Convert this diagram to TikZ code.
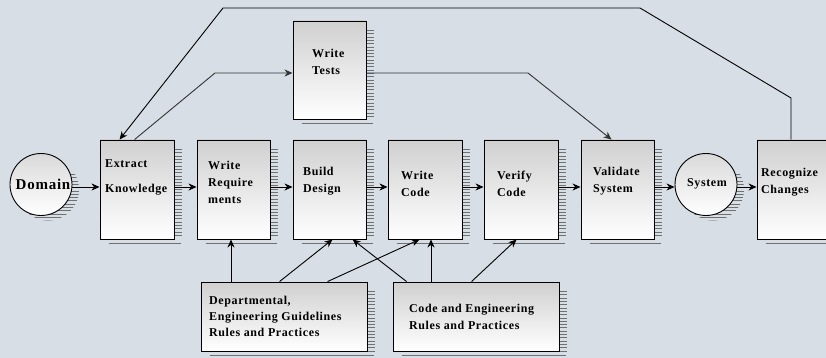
\documentclass[tikz,border=0pt]{standalone}
\usepackage{fontspec}
\setmainfont{Liberation Serif}[LetterSpace=5]
\usetikzlibrary{arrows.meta,calc}

\definecolor{bgmarble}{RGB}{216,222,229}
\definecolor{hatchgray}{RGB}{112,112,112}
\definecolor{boxtop}{RGB}{208,208,208}

\tikzset{
  x=1pt, y=-1pt,
  procbox/.style={draw=black, line width=0.9pt, rectangle, inner sep=0pt,
    top color=boxtop, bottom color=white},
  termcircle/.style={draw=black, line width=0.9pt, circle, inner sep=0pt,
    minimum size=62pt, top color=boxtop!80, bottom color=white},
  lbl/.style={inner sep=0pt, align=left, anchor=west,
    font=\fontsize{12}{17}\selectfont\bfseries},
  hatchline/.style={draw=hatchgray, line width=0.9pt},
  shadowline/.style={draw=hatchgray, line width=1.3pt},
  flow/.style={draw=black, line width=0.9pt,
    -{Stealth[length=8pt,width=7pt,inset=2.5pt]}},
  testflow/.style={flow, draw=black!80},
}

% hatched drop shadow on the right side and a bar under a box
\newcommand\boxshade[2]{%
  \foreach \k in {0,...,#2}{
    \draw[hatchline] ($(#1.north east)+(0.5,10+3.3*\k)$) -- ++(7,0);
  }
  \draw[shadowline] ($(#1.south west)+(9,3.8)$) -- ($(#1.south east)+(7,3.8)$);
}

% hatched drop shadow of a circle, drawn before the circle itself
\newcommand\circleshade[1]{%
  \begin{scope}
    \clip ($(#1)+(7,5)$) circle (31pt);
    \foreach \k in {0,...,16}{
      \draw[hatchline] ($(#1)+(-40,-10+3.3*\k)$) -- ++(90,0);
    }
  \end{scope}
}

\begin{document}
\begin{tikzpicture}
  \clip (0,0) rectangle (826,358);
  \fill[bgmarble] (0,0) rectangle (826,358);

  % circle centres
  \coordinate (domc) at (41,184.5);
  \coordinate (sysc) at (706,184.5);
  \circleshade{domc}
  \circleshade{sysc}

  % main row of process boxes
  \node[termcircle] (dom) at (domc) {};
  \node[procbox, minimum width=74pt, minimum height=99pt] (ek) at (137,189.5) {};
  \node[procbox, minimum width=73pt, minimum height=99pt] (wr) at (233.5,189.5) {};
  \node[procbox, minimum width=73pt, minimum height=99pt] (bd) at (329.5,189.5) {};
  \node[procbox, minimum width=74pt, minimum height=99pt] (wc) at (425,189.5) {};
  \node[procbox, minimum width=74pt, minimum height=99pt] (vc) at (521,189.5) {};
  \node[procbox, minimum width=73pt, minimum height=99pt] (vs) at (617.5,189.5) {};
  \node[termcircle] (sys) at (sysc) {};
  \node[procbox, minimum width=74pt, minimum height=99pt] (rc) at (794,189.5) {};

  % upper and lower boxes
  \node[procbox, minimum width=73pt, minimum height=98pt] (wt) at (329.5,70) {};
  \node[procbox, minimum width=166pt, minimum height=69pt] (dept) at (284,316.5) {};
  \node[procbox, minimum width=166pt, minimum height=69pt] (code) at (476,316.5) {};

  \boxshade{ek}{26}
  \boxshade{wr}{26}
  \boxshade{bd}{26}
  \boxshade{wc}{26}
  \boxshade{vc}{26}
  \boxshade{vs}{26}
  \boxshade{rc}{26}
  \boxshade{wt}{26}
  \boxshade{dept}{18}
  \boxshade{code}{18}

  % labels
  \node[lbl, anchor=center, font=\fontsize{15}{18}\selectfont\bfseries] (domT) at (43,184) {Domain};
  \node[lbl] (ekT) at (105,177.5) {Extract\\[8pt]Knowledge};
  \node[lbl] (wrT) at (208,182) {Write\\Require\\ments};
  \node[lbl] (bdT) at (303,181.5) {Build\\Design};
  \node[lbl] (wcT) at (401,183.5) {Write\\Code};
  \node[lbl] (vcT) at (497,183.5) {Verify\\Code};
  \node[lbl] (vsT) at (593,181.5) {Validate\\System};
  \node[lbl, anchor=center] (sysT) at (707,183.5) {System};
  \node[lbl] (rcT) at (761,182.5) {Recognize\\Changes};
  \node[lbl] (wtT) at (312,61.5) {Write\\Tests};
  \node[lbl, font=\fontsize{12}{16}\selectfont\bfseries] (deptT) at (209,316) {Departmental,\\Engineering Guidelines\\Rules and Practices};
  \node[lbl] (codeT) at (409,316.5) {Code and Engineering\\Rules and Practices};

  % main flow
  \coordinate (row) at (0,187);
  \draw[flow] (dom.east |- row) -- (ek.west |- row);
  \draw[flow] (ek.east |- row) -- (wr.west |- row);
  \draw[flow] (wr.east |- row) -- (bd.west |- row);
  \draw[flow] (bd.east |- row) -- (wc.west |- row);
  \draw[flow] (wc.east |- row) -- (vc.west |- row);
  \draw[flow] (vc.east |- row) -- (vs.west |- row);
  \draw[flow] (vs.east |- row) -- (sys.west |- row);
  \draw[flow] (sys.east |- row) -- (rc.west |- row);

  % feedback loop from Recognize Changes to Extract Knowledge
  \coordinate (loopR) at (791,98);
  \coordinate (loopTR) at (640,8);
  \coordinate (loopTL) at (223,8);
  \draw[flow] (rc.north -| loopR) -- (loopR) -- (loopTR) -- (loopTL)
    -- ($(ek.north west)+(20,0)$);

  % tests branch
  \coordinate (testrow) at (0,73);
  \coordinate (tL) at (215,73);
  \coordinate (tR) at (528,73);
  \draw[testflow] ($(ek.north west)+(35,0)$) -- (tL) -- (wt.west |- testrow);
  \draw[testflow] (wt.east |- testrow) -- (tR) -- ($(vs.north west)+(31,0)$);

  % guideline inputs
  \draw[flow] (dept.north -| 231,0) -- (wr.south -| 231,0);
  \draw[flow] ($(dept.north west)+(79,0)$) -- ($(bd.south west)+(40,0)$);
  \draw[flow] ($(dept.north west)+(127,0)$) -- ($(wc.south west)+(32,0)$);
  \draw[flow] ($(code.north west)+(14,0)$) -- ($(bd.south west)+(60,0)$);
  \draw[flow] (code.north -| 431,0) -- (wc.south -| 431,0);
  \draw[flow] ($(code.north west)+(79,0)$) -- ($(vc.south west)+(33,0)$);
\end{tikzpicture}
\end{document}
